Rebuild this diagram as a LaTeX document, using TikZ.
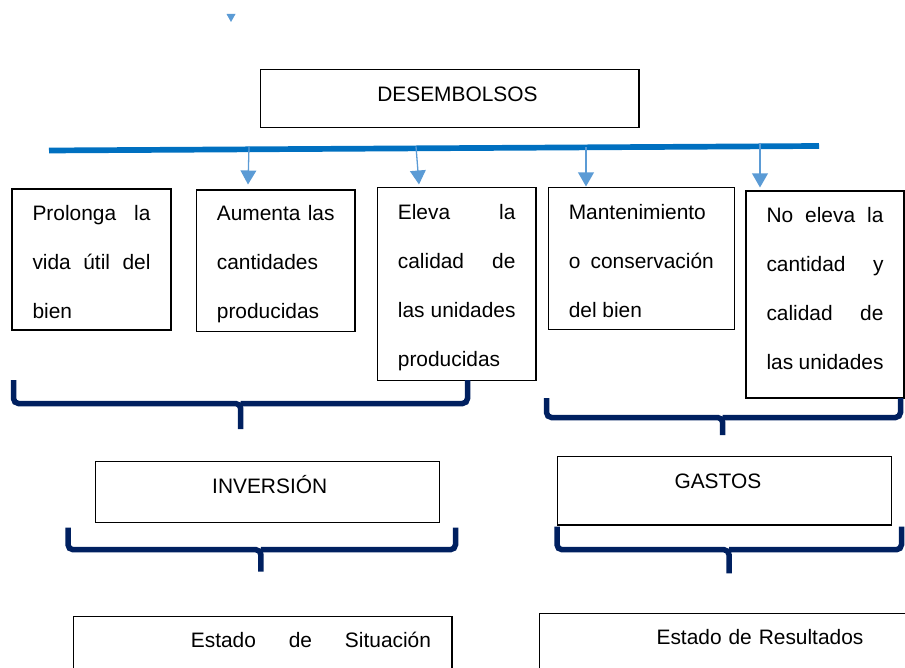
\documentclass[tikz,border=0pt]{standalone}
\usepackage{fontspec}
\setmainfont{Liberation Sans}
\usetikzlibrary{arrows.meta}
\definecolor{azulLinea}{HTML}{0070C0}
\definecolor{azulFlecha}{HTML}{5B9BD5}
\definecolor{azulLlave}{HTML}{002060}
\newcommand\sangria{\hspace*{117pt}}
\begin{document}
\begin{tikzpicture}[x=1pt,y=-1pt,
	caja/.style={draw=black, line width=1.1pt, anchor=north west, inner xsep=20.5pt, inner ysep=0pt, outer sep=0pt, align=justify, font=\fontsize{20.9}{49}\selectfont},
	titulo/.style={draw=black, line width=1.1pt, anchor=north west, inner sep=0pt, outer sep=0pt, align=left, font=\fontsize{20.9}{25}\selectfont},
	flecha/.style={draw=azulFlecha, line width=1.3pt, -{Triangle[width=15.7pt,length=14pt]}},
	llave/.style={draw=azulLlave, line width=5.5pt, rounded corners=5pt}]
			\useasboundingbox (0,0) rectangle (905,668);
			% Punta suelta arriba
			\fill[azulFlecha] (226.5,14) -- (235.5,14) -- (231,22) -- cycle;
			% Desembolsos
			\node[titulo, text width=378.7pt, text height=32.4pt, text depth=25.6pt] (desembolsos) at (260.3,69.3) {\sangria DESEMBOLSOS};
			\draw[azulLinea, line width=5.7pt] (49,150.5) -- (819,146);
			% Tipos de desembolso
			\node[caja, text width=118pt, text height=31.7pt, text depth=109.3pt] (prolonga) at (12,189) {Prolonga la\linebreak vida útil del\linebreak bien};
			\node[caja, text width=117.6pt, text height=30.8pt, text depth=110.9pt] (aumenta) at (196.4,190) {Aumenta las\linebreak cantidades\linebreak producidas};
			\node[caja, text width=117.6pt, text height=32.2pt, text depth=161.2pt] (eleva) at (377.4,187.3) {Eleva la\linebreak calidad de\linebreak las unidades\linebreak producidas};
			\node[caja, text width=145pt, text height=32.1pt, text depth=109.5pt] (mantenimiento) at (548.3,187.7) {Mantenimiento\linebreak o conservación\linebreak del bien};
			\node[caja, text width=117pt, text height=31.5pt, text depth=175.5pt] (noeleva) at (746,191) {No eleva la\linebreak cantidad y\linebreak calidad de\linebreak las unidades};
			% Flechas
			\coordinate (s1) at (249,147);
			\coordinate (f1) at (248,184.5);
			\coordinate (s2) at (416,146.5);
			\coordinate (f2) at (419,184.5);
			\coordinate (s3) at (586,147.5);
			\coordinate (f3) at (586,186.5);
			\coordinate (s4) at (760,143);
			\coordinate (f4) at (760,187.5);
			\draw[flecha] (s1) -- (f1);
			\draw[flecha] (s2) -- (f2);
			\draw[flecha] (s3) -- (f3);
			\draw[flecha] (s4) -- (f4);
			% Llaves
			\draw[llave] (13.5,380) |- (240.7,403.5) -- (240.7,429) (240.7,403.5) -| (467.5,380);
			\draw[llave] (546.5,398) |- (722.7,417.5) -- (722.7,435) (722.7,417.5) -| (900.5,398);
			\draw[llave] (68,527.7) |- (260.9,549.7) -- (260.9,571.7) (260.9,549.7) -| (455.5,527.7);
			\draw[llave] (557,526.7) |- (729,549.7) -- (729,573.3) (729,549.7) -| (901.5,526.7);
			% Inversión y gastos
			\node[titulo, text width=344.6pt, text height=31.3pt, text depth=29.7pt] (inversion) at (95.2,461.7) {\sangria INVERSIÓN};
			\node[titulo, text width=334.2pt, text height=31.6pt, text depth=36.7pt] (gastos) at (557.5,456.7) {\sangria GASTOS};
			% Estados
			\node[titulo, text width=378.1pt, text height=30.3pt, text depth=60pt] (situacion) at (73.9,616.7) {\sangria\hbox to 240.1pt{Estado\hfill de\hfill Situación}};
			\node[titulo, text width=420pt, text height=31pt, text depth=60pt] (resultados) at (539.6,613.3) {\sangria Estado de Resultados};
\end{tikzpicture}
\end{document}
